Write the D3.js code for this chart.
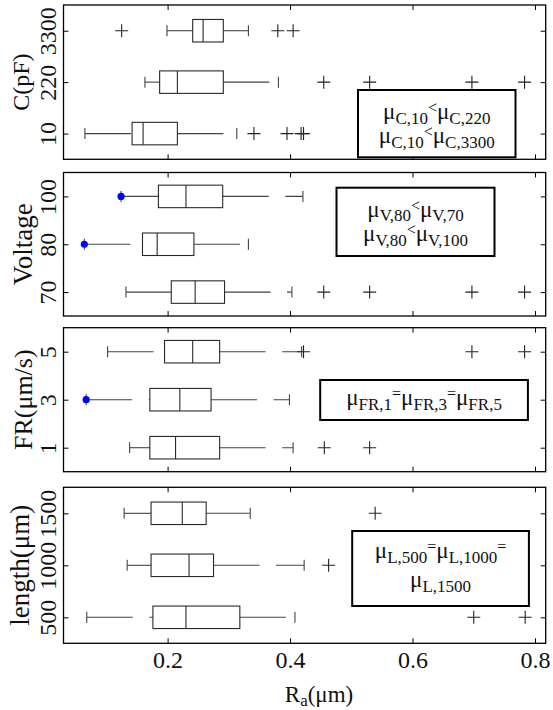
<!DOCTYPE html>
<html>
<head>
<meta charset="utf-8">
<script src="https://cdn.jsdelivr.net/npm/d3@7/dist/d3.min.js"></script>
<style>
  html, body { margin: 0; padding: 0; background: #fff; }
  svg { display: block; }
  svg text { font-family: "Liberation Serif", "Times New Roman", Times, "DejaVu Serif", "Noto Serif", serif; fill: #111; }
</style>
</head>
<body>
<svg id="chart" width="553" height="710"></svg>
<script>
// ---------------- DATA ----------------
const xTicks = [0.2, 0.4, 0.6, 0.8];
const xLabelParts = [["R", "main"], ["a", "sub"], ["(μm)", "main"]];

// Panel 1: capacitance
const capLabel = "C(pF)";
const capCats = ["10", "220", "3300"];
const capLow  = [0.065, 0.163, 0.199];
const capQ1   = [0.142, 0.187, 0.241];
const capMed  = [0.160, 0.216, 0.258];
const capQ3   = [0.216, 0.291, 0.291];
const capHigh = [0.313, 0.381, 0.332];
const capOut  = [[0.341, 0.395, 0.418, 0.422], [0.455, 0.530, 0.697, 0.783], [0.125, 0.380, 0.405]];
const capDot  = [false, false, false];
const capLegend = [
  [["μ","main"],["C,10","sub"],["<","sup"],["μ","main"],["C,220","sub"]],
  [["μ","main"],["C,10","sub"],["<","sup"],["μ","main"],["C,3300","sub"]]
];

// Panel 2: voltage
const voltLabel = "Voltage";
const voltCats = ["70", "80", "100"];
const voltLow  = [0.132, 0.064, 0.124];
const voltQ1   = [0.206, 0.159, 0.185];
const voltMed  = [0.245, 0.183, 0.230];
const voltQ3   = [0.293, 0.243, 0.290];
const voltHigh = [0.403, 0.332, 0.421];
const voltOut  = [[0.455, 0.530, 0.697, 0.783], [], []];
const voltDot  = [false, true, true];
const voltLegend = [
  [["μ","main"],["V,80","sub"],["<","sup"],["μ","main"],["V,70","sub"]],
  [["μ","main"],["V,80","sub"],["<","sup"],["μ","main"],["V,100","sub"]]
];

// Panel 3: feed rate
const frLabel = "FR(μm/s)";
const frCats = ["1", "3", "5"];
const frLow  = [0.138, 0.067, 0.102];
const frQ1   = [0.171, 0.171, 0.195];
const frMed  = [0.213, 0.220, 0.241];
const frQ3   = [0.285, 0.271, 0.285];
const frHigh = [0.405, 0.399, 0.419];
const frOut  = [[0.456, 0.530], [], [0.422, 0.697, 0.783]];
const frDot  = [false, true, false];
const frLegend = [
  [["μ","main"],["FR,1","sub"],["=","sup"],["μ","main"],["FR,3","sub"],["=","sup"],["μ","main"],["FR,5","sub"]]
];

// Panel 4: length
const lenLabel = "length(μm)";
const lenCats = ["500", "1000", "1500"];
const lenLow  = [0.068, 0.134, 0.129];
const lenQ1   = [0.176, 0.173, 0.173];
const lenMed  = [0.230, 0.235, 0.224];
const lenQ3   = [0.318, 0.275, 0.263];
const lenHigh = [0.408, 0.423, 0.335];
const lenOut  = [[0.700, 0.784], [0.463], [0.539]];
const lenDot  = [false, false, false];
const lenLegend = [
  [["μ","main"],["L,500","sub"],["=","sup"],["μ","main"],["L,1000","sub"],["=","sup"]],
  [["μ","main"],["L,1500","sub"]]
];

// ---------------- LAYOUT ----------------
const left = 63.5, right = 545.7;
const panels = [
  { top: 5,     bottom: 159.3, label: capLabel,  labelX: 29, labelFS: 24,
    cats: capCats, low: capLow, q1: capQ1, med: capMed, q3: capQ3, high: capHigh, out: capOut, dot: capDot,
    legend: capLegend, box: [358, 90, 157.5, 67.3], base: [119, 143] },
  { top: 172.5, bottom: 316,   label: voltLabel, labelX: 32, labelFS: 27,
    cats: voltCats, low: voltLow, q1: voltQ1, med: voltMed, q3: voltQ3, high: voltHigh, out: voltOut, dot: voltDot,
    legend: voltLegend, box: [336.5, 187.7, 158, 68.3], base: [216.5, 241] },
  { top: 327.7, bottom: 471.7, label: frLabel,   labelX: 32, labelFS: 26,
    cats: frCats, low: frLow, q1: frQ1, med: frMed, q3: frQ3, high: frHigh, out: frOut, dot: frDot,
    legend: frLegend, box: [320.2, 380, 207.7, 40], base: [405] },
  { top: 487.3, bottom: 643.3, label: lenLabel,  labelX: 29, labelFS: 27,
    cats: lenCats, low: lenLow, q1: lenQ1, med: lenMed, q3: lenQ3, high: lenHigh, out: lenOut, dot: lenDot,
    legend: lenLegend, box: [352.2, 531, 176.7, 75], base: [558, 587] }
];

const FS = 23, TICKFS = 24, SUBFS = 17, SUPFS = 16;
const BOXH = 11.25, CAPH = 5.5, PLUS = 6.5;
const lineCol = "#2a2a2a", whiskCol = "#444";

const svg = d3.select("#chart");
const x = d3.scaleLinear().domain([0.030, 0.8175]).range([left, right]);

function richText(sel, parts) {
  const off = { main: 0, sub: 4.5, sup: -6 };
  const size = { main: FS, sub: SUBFS, sup: SUPFS };
  let cur = 0;
  parts.forEach(([t, kind]) => {
    const target = off[kind];
    sel.append("tspan")
      .attr("dy", target - cur)
      .attr("font-size", size[kind])
      .text(t);
    cur = target;
  });
}

panels.forEach((p, pi) => {
  const y = d3.scaleLinear().domain([0.5, 3.5]).range([p.bottom, p.top]);
  const g = svg.append("g");

  // axes (inward ticks)
  const axL = g.append("g").attr("transform", `translate(${left},0)`)
    .call(d3.axisLeft(y).tickValues([1, 2, 3]).tickSize(-5).tickFormat(i => p.cats[i - 1]));
  axL.selectAll("text")
    .attr("x", null).attr("dy", null)
    .attr("transform", "translate(-7.5,0) rotate(-90)")
    .attr("text-anchor", "middle")
    .attr("font-size", TICKFS);
  g.append("g").attr("transform", `translate(${right},0)`)
    .call(d3.axisRight(y).tickValues([1, 2, 3]).tickSize(-5).tickFormat(""));
  g.append("g").attr("transform", `translate(0,${p.top})`)
    .call(d3.axisTop(x).tickValues(xTicks).tickSize(-5).tickFormat(""));
  const axB = g.append("g").attr("transform", `translate(0,${p.bottom})`)
    .call(d3.axisBottom(x).tickValues(xTicks).tickSize(-5)
      .tickFormat(pi === panels.length - 1 ? d3.format(".1f") : ""));
  axB.selectAll("text")
    .attr("y", 24.7).attr("dy", null)
    .attr("font-size", TICKFS);
  g.selectAll("g").attr("font-family", null).attr("font-size", null);
  g.selectAll(".domain").remove();
  g.selectAll(".tick line").attr("stroke", "#000").attr("stroke-width", 1);

  // frame
  g.append("rect")
    .attr("x", left).attr("y", p.top)
    .attr("width", right - left).attr("height", p.bottom - p.top)
    .attr("fill", "none").attr("stroke", "#000").attr("stroke-width", 1.3);

  // y label
  g.append("text")
    .attr("transform", `translate(${p.labelX},${(p.top + p.bottom) / 2}) rotate(-90)`)
    .attr("text-anchor", "middle")
    .attr("font-size", p.labelFS)
    .text(p.label);

  // boxes
  p.cats.forEach((c, i) => {
    const cy = y(i + 1);
    const bg = g.append("g");
    // whiskers (dashed, drawn left to right)
    bg.append("line")
      .attr("x1", x(p.low[i])).attr("x2", x(p.q1[i]))
      .attr("y1", cy).attr("y2", cy)
      .attr("stroke", whiskCol).attr("stroke-width", 1.1)
      .attr("stroke-dasharray", "46,16.5");
    bg.append("line")
      .attr("x1", x(p.q3[i])).attr("x2", x(p.high[i]))
      .attr("y1", cy).attr("y2", cy)
      .attr("stroke", whiskCol).attr("stroke-width", 1.1)
      .attr("stroke-dasharray", "46,16.5");
    // caps
    [p.low[i], p.high[i]].forEach(v => {
      bg.append("line")
        .attr("x1", x(v)).attr("x2", x(v))
        .attr("y1", cy - CAPH).attr("y2", cy + CAPH)
        .attr("stroke", whiskCol).attr("stroke-width", 1.1);
    });
    // box
    bg.append("rect")
      .attr("x", x(p.q1[i])).attr("y", cy - BOXH)
      .attr("width", x(p.q3[i]) - x(p.q1[i])).attr("height", 2 * BOXH)
      .attr("fill", "none").attr("stroke", lineCol).attr("stroke-width", 1.1);
    // median
    bg.append("line")
      .attr("x1", x(p.med[i])).attr("x2", x(p.med[i]))
      .attr("y1", cy - BOXH).attr("y2", cy + BOXH)
      .attr("stroke", lineCol).attr("stroke-width", 1.1);
    // outliers
    p.out[i].forEach(v => {
      bg.append("path")
        .attr("d", `M${x(v) - PLUS},${cy}H${x(v) + PLUS}M${x(v)},${cy - PLUS}V${cy + PLUS}`)
        .attr("stroke", "#222").attr("stroke-width", 1.1).attr("fill", "none");
    });
    // blue dot at lower whisker end
    if (p.dot[i]) {
      bg.append("circle")
        .attr("cx", x(p.low[i])).attr("cy", cy).attr("r", 3.6)
        .attr("fill", "#0000ff");
    }
  });

  // legend box
  const [bx, by, bw, bh] = p.box;
  g.append("rect")
    .attr("x", bx).attr("y", by).attr("width", bw).attr("height", bh)
    .attr("fill", "#fff").attr("stroke", "#000").attr("stroke-width", 2);
  p.legend.forEach((line, li) => {
    const t = g.append("text")
      .attr("x", bx + bw / 2).attr("y", p.base[li])
      .attr("text-anchor", "middle");
    richText(t, line);
  });
});

// x label
const xl = svg.append("text")
  .attr("x", 319).attr("y", 701.5)
  .attr("text-anchor", "middle");
richText(xl, xLabelParts);
</script>
</body>
</html>
